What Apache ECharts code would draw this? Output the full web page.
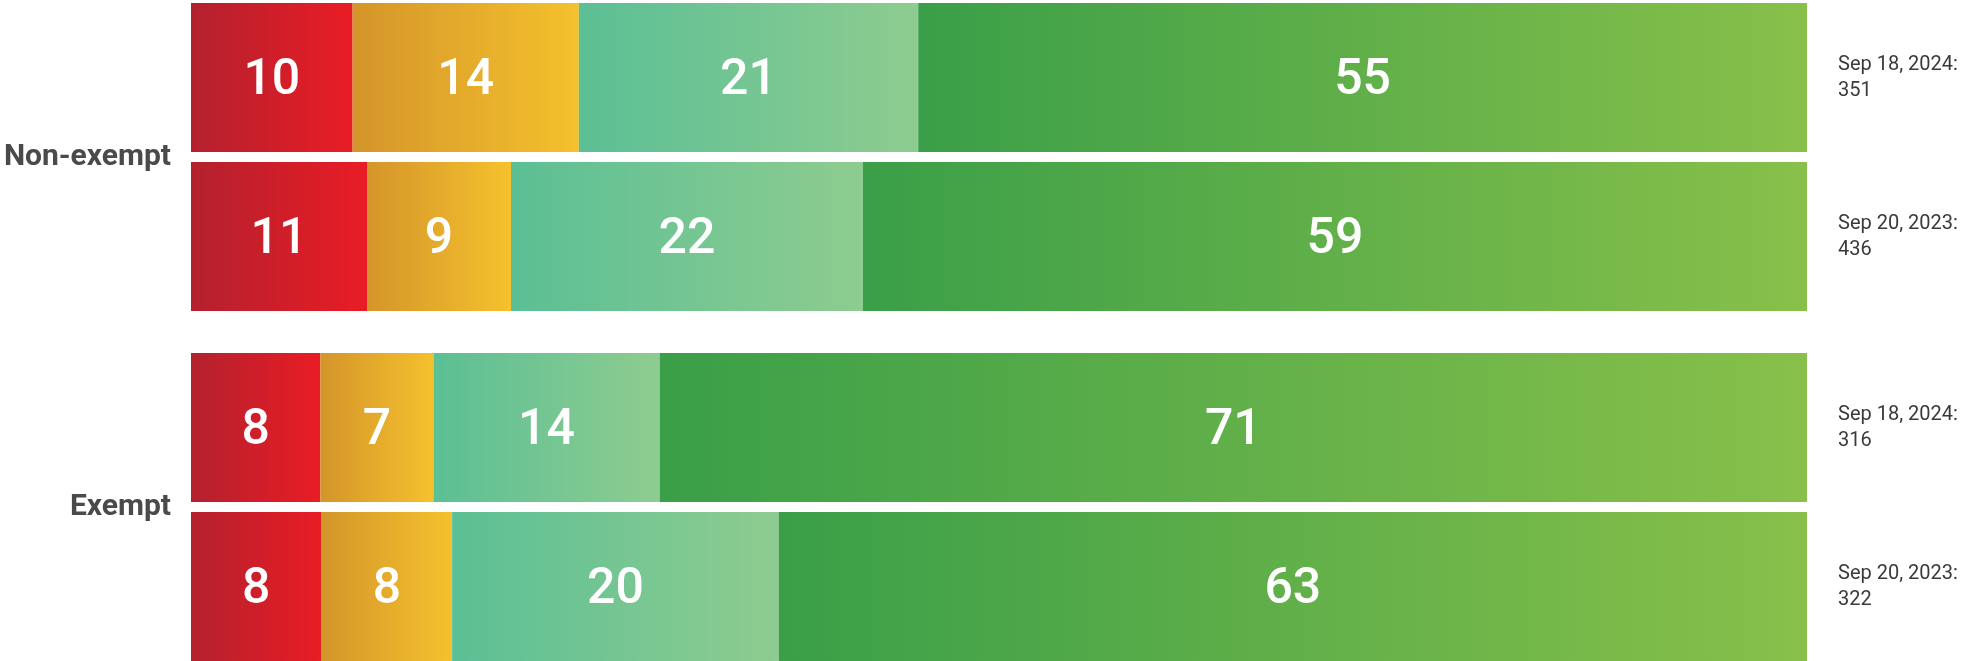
<!DOCTYPE html>
<html>
<head>
<meta charset="utf-8">
<script src="https://cdn.jsdelivr.net/npm/echarts@6/dist/echarts.min.js"></script>
<style>
  html, body { margin: 0; padding: 0; background: #ffffff; }
  #chart { width: 1968px; height: 661px; }
</style>
</head>
<body>
<div id="chart"></div>
<script>
// ---- data ----
const groups = ['Non-exempt', 'Exempt'];
const dates = ['Sep 18, 2024', 'Sep 20, 2023'];
const respondents = [[351, 436], [316, 322]];
const seriesNames = ['Level 1', 'Level 2', 'Level 3', 'Level 4'];
// [group][date]
const level1Vals = [[10, 11], [8, 8]];
const level2Vals = [[14, 9], [7, 8]];
const level3Vals = [[21, 22], [14, 20]];
const level4Vals = [[55, 59], [71, 63]];

const allVals = [level1Vals, level2Vals, level3Vals, level4Vals];
const gradients = [
  ['#b3212e', '#e91c25'],
  ['#d4952a', '#f5c12d'],
  ['#5bbf95', '#8ecc90'],
  ['#3a9f48', '#88c04a']
];

const chart = echarts.init(document.getElementById('chart'));

const grids = [
  { left: 191, right: 161, top: -2, height: 318, outerBoundsMode: 'none', containLabel: false },
  { left: 191, right: 161, top: 348, height: 318, outerBoundsMode: 'none', containLabel: false }
];

const xAxes = [], yAxes = [], series = [];
groups.forEach((g, gi) => {
  xAxes.push({ type: 'value', gridIndex: gi, min: 0, max: 100, show: false });
  const cats = dates.map((d, i) => d + ':\n' + respondents[gi][i]);
  yAxes.push({
    type: 'category', gridIndex: gi, inverse: true, data: cats, position: 'right',
    axisLine: { show: false }, axisTick: { show: false },
    axisLabel: { align: 'left', margin: 31, color: '#3a3a3a', fontSize: 20, lineHeight: 26, fontFamily: 'Roboto' }
  });
  yAxes.push({
    type: 'category', gridIndex: gi, inverse: true, data: cats, position: 'left',
    axisLine: { show: false }, axisTick: { show: false }, axisLabel: { show: false },
    name: g, nameLocation: 'middle', nameRotate: 0, nameGap: 20,
    nameTextStyle: { align: 'right', verticalAlign: 'middle', fontWeight: 'bold', fontSize: 30, color: '#4a4a4a', fontFamily: 'Roboto' }
  });
  const totals = dates.map((d, i) => allVals.reduce((s, arr) => s + arr[gi][i], 0));
  allVals.forEach((arr, si) => {
    series.push({
      name: seriesNames[si],
      type: 'bar',
      xAxisIndex: gi,
      yAxisIndex: gi * 2,
      stack: 'g' + gi,
      barWidth: 149,
      itemStyle: {
        color: new echarts.graphic.LinearGradient(0, 0, 1, 0, [
          { offset: 0, color: gradients[si][0] },
          { offset: 1, color: gradients[si][1] }
        ])
      },
      label: {
        show: true, position: 'inside', color: '#ffffff', fontSize: 50, fontWeight: 500,
        fontFamily: 'Roboto', offset: [0, 4],
        formatter: p => String(p.data.raw)
      },
      data: arr[gi].map((v, i) => ({ value: v / totals[i] * 100, raw: v }))
    });
  });
});

chart.setOption({
  animation: false,
  grid: grids,
  xAxis: xAxes,
  yAxis: yAxes,
  series: series
});
</script>
</body>
</html>
